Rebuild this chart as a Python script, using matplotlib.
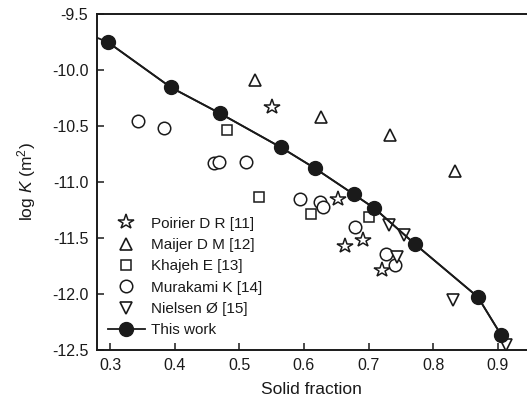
import numpy as np
import matplotlib
matplotlib.use("Agg")
import matplotlib.pyplot as plt

plt.rcParams['font.family'] = ['Liberation Sans', 'DejaVu Sans']
plt.rcParams['mathtext.fontset'] = 'custom'
plt.rcParams['mathtext.rm'] = 'Liberation Sans'
plt.rcParams['mathtext.it'] = 'Liberation Sans:italic'

# data
poirier_x = [0.550, 0.653, 0.663, 0.692, 0.721]
poirier_y = [-10.33, -11.155, -11.57, -11.52, -11.79]

maijer_x = [0.524, 0.627, 0.733, 0.833]
maijer_y = [-10.09, -10.42, -10.58, -10.90]

khajeh_x = [0.481, 0.530, 0.611, 0.701]
khajeh_y = [-10.535, -11.13, -11.29, -11.315]

murakami_x = [0.343, 0.384, 0.461, 0.468, 0.511, 0.594, 0.625, 0.629, 0.679, 0.727, 0.741]
murakami_y = [-10.455, -10.52, -10.83, -10.825, -10.82, -11.15, -11.175, -11.22, -11.405, -11.645, -11.74]

nielsen_x = [0.731, 0.754, 0.744, 0.830, 0.913]
nielsen_y = [-11.385, -11.47, -11.67, -12.05, -12.455]

work_x = [0.297, 0.394, 0.470, 0.564, 0.617, 0.677, 0.709, 0.772, 0.869, 0.905]
work_y = [-9.753, -10.155, -10.387, -10.69, -10.878, -11.11, -11.235, -11.556, -12.027, -12.366]

# fitted line (starts at the left edge of the axes)
line_x = [0.279] + work_x
line_y = [-9.71] + work_y

fig = plt.figure(figsize=(5.27, 3.99), dpi=100)
ax = fig.add_axes([0.1835, 0.1228, 0.8165, 0.8422])

k = '#1a1a1a'
ax.plot(poirier_x, poirier_y, ls='none', marker='*', ms=11.5, mfc='white', mec=k, mew=1.1, label='Poirier D R [11]')
ax.plot(maijer_x, maijer_y, ls='none', marker='^', ms=9, mfc='white', mec=k, mew=1.2, label='Maijer D M [12]')
ax.plot(khajeh_x, khajeh_y, ls='none', marker='s', ms=7.5, mfc='white', mec=k, mew=1.1, label='Khajeh E [13]')
ax.plot(murakami_x, murakami_y, ls='none', marker='o', ms=9, mfc='white', mec=k, mew=1.1, label='Murakami K [14]')
ax.plot(nielsen_x, nielsen_y, ls='none', marker='v', ms=9, mfc='white', mec=k, mew=1.2, label='Nielsen Ø [15]')
ax.plot(line_x, line_y, color=k, lw=1.3)
ax.plot(work_x, work_y, ls='-', color=k, lw=1.3, marker='o', ms=10, label='This work')

ax.set_xlim(0.2794, 0.945)
ax.set_ylim(-12.5, -9.5)
ax.set_xticks([0.3, 0.4, 0.5, 0.6, 0.7, 0.8, 0.9])
ax.set_yticks([-9.5, -10.0, -10.5, -11.0, -11.5, -12.0, -12.5])
ax.set_xticklabels(['0.3', '0.4', '0.5', '0.6', '0.7', '0.8', '0.9'])
ax.set_yticklabels(['-9.5', '-10.0', '-10.5', '-11.0', '-11.5', '-12.0', '-12.5'])
ax.tick_params(direction='in', length=5, width=1.1, labelsize=11.5, color=k, labelcolor=k, pad=6)
ax.spines['right'].set_visible(False)
for s in ['left', 'top', 'bottom']:
    ax.spines[s].set_linewidth(1.4)
    ax.spines[s].set_color(k)

ax.set_xlabel('Solid fraction', fontsize=12.5, color=k, labelpad=6)
ax.set_ylabel(r'log $K$ (m$^2$)', fontsize=12.5, color=k, labelpad=10)

leg = ax.legend(loc='lower left', bbox_to_anchor=(0.005, 0.01), frameon=False, fontsize=11,
                handlelength=2.4, handletextpad=0.4, labelspacing=0.48, borderaxespad=0.2)
for t in leg.get_texts():
    t.set_color(k)

plt.savefig("out.png", dpi=100)
